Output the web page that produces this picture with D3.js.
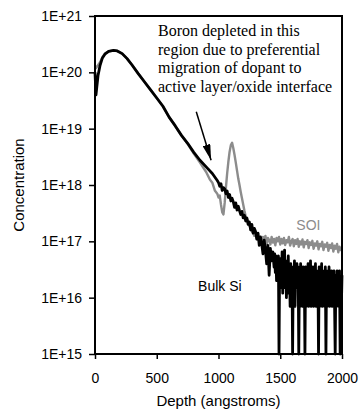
<!DOCTYPE html>
<html>
<head>
<meta charset="utf-8">
<script src="https://cdn.jsdelivr.net/npm/d3@7"></script>
<style>
  body { margin: 0; background: #fff; }
  svg { display: block; }
</style>
</head>
<body>
<div id="chart"></div>
<script>
// Axis ticks
const xTicks = [0, 500, 1000, 1500, 2000];
const yTicks = [1e15, 1e16, 1e17, 1e18, 1e19, 1e20, 1e21];

// Bulk Si profile, smooth part (depth in angstroms, concentration)
const bulkHeadDepth = [0, 8, 15, 25, 40, 60, 80, 110, 150, 180, 220, 260, 300, 350, 400,
  450, 500, 550, 600, 650, 700, 750, 800, 850, 900, 950, 990];
const bulkHeadConc = [1.0e20, 4.0e19, 5.6e19, 8.9e19, 1.3e20, 1.8e20, 2.1e20, 2.35e20, 2.45e20,
  2.4e20, 2.15e20, 1.75e20, 1.35e20, 9.5e19, 6.8e19, 4.9e19, 3.5e19, 2.5e19, 1.6e19, 1.12e19,
  7.6e18, 5.5e18, 3.8e18, 2.75e18, 2.1e18, 1.6e18, 1.2e18];

// Bulk Si jagged tail, every 10 angstroms from 1000 to 1440
const bulkMidStart = 1000;
const bulkMidConc = [
  1.1e18, 9.5e17, 1.05e18, 8.0e17, 9.0e17, 8.5e17, 7.0e17, 7.8e17, 6.0e17, 6.8e17,
  5.2e17, 5.8e17, 5.0e17, 4.0e17, 4.8e17, 3.6e17, 4.2e17, 3.5e17, 3.0e17, 3.4e17,
  2.6e17, 2.9e17, 2.3e17, 2.6e17, 2.0e17, 2.2e17, 1.6e17, 2.0e17, 1.4e17, 1.7e17,
  1.5e17, 1.1e17, 1.4e17, 8.5e16, 1.2e17, 9.0e16, 6.0e16, 1.05e17, 7.0e16, 4.0e16,
  8.5e16, 2.5e16, 7.5e16, 4.5e16, 6.5e16
];

// Bulk Si noise floor, every 5 angstroms from 1450 to 2000 (0 = no counts)
const bulkTailStart = 1450;
const bulkTailConc = [
  3.5e16, 6.0e16, 2.8e16, 5.5e16, 2.0e16, 4.8e16, 3.0e16, 5.5e16, 0, 4.0e16,
  1.5e16, 5.0e16, 2.2e16, 6.5e16, 1.2e16, 4.0e16, 2.0e16, 7.0e16, 1.5e16, 3.5e16,
  1.0e16, 4.5e16, 2.5e16, 5.5e16, 1.2e16, 3.0e16, 7.0e15, 4.0e16, 1.5e16, 3.5e16,
  0, 3.0e16, 1.0e16, 4.5e16, 7.0e15, 3.0e16, 1.5e16, 4.0e16, 2.0e16, 3.5e16,
  0, 2.5e16, 7.0e15, 4.0e16, 1.2e16, 3.0e16, 7.0e15, 3.5e16, 1.5e16, 2.5e16,
  0, 3.5e16, 7.0e15, 2.5e16, 1.0e16, 4.0e16, 7.0e15, 3.0e16, 1.2e16, 4.5e16,
  7.0e15, 2.5e16, 1.5e16, 3.5e16, 7.0e15, 3.0e16, 1.0e16, 4.0e16, 7.0e15, 2.5e16,
  1.2e16, 3.0e16, 0, 3.5e16, 7.0e15, 2.5e16, 1.2e16, 4.0e16, 7.0e15, 3.0e16,
  1.0e16, 2.5e16, 7.0e15, 3.5e16, 0, 3.0e16, 7.0e15, 2.5e16, 1.2e16, 3.5e16,
  7.0e15, 2.5e16, 1.0e16, 3.0e16, 7.0e15, 2.5e16, 1.2e16, 3.0e16, 7.0e15, 0,
  2.5e16, 7.0e15, 3.0e16, 1.2e16, 2.5e16, 7.0e15, 3.0e16, 0, 2.2e16, 7.0e15,
  2.5e16
];

// SOI profile, smooth part with the interface peak
const soiHeadDepth = [0, 10, 20, 40, 60, 80, 110, 150, 180, 220, 260, 300, 350, 400, 450,
  500, 550, 600, 650, 700, 750, 800, 850, 900, 930, 950, 970, 990, 1000, 1010, 1020, 1030,
  1040, 1050, 1060, 1070, 1080, 1090, 1100, 1110, 1120, 1130, 1140, 1150, 1160, 1170, 1180,
  1190, 1200, 1210, 1220];
const soiHeadConc = [1.3e20, 1.2e20, 1.3e20, 1.5e20, 1.85e20, 2.15e20, 2.35e20, 2.45e20, 2.4e20,
  2.15e20, 1.75e20, 1.35e20, 9.5e19, 6.8e19, 4.9e19, 3.5e19, 2.5e19, 1.6e19, 1.12e19, 7.6e18,
  5.4e18, 3.6e18, 2.5e18, 1.7e18, 1.25e18, 1.1e18, 8.0e17, 7.0e17, 6.0e17, 6.5e17, 4.5e17,
  3.3e17, 3.0e17, 4.8e17, 9.0e17, 1.6e18, 2.6e18, 3.9e18, 5.1e18, 5.6e18, 4.5e18, 3.4e18,
  2.5e18, 1.8e18, 1.3e18, 1.0e18, 7.5e17, 5.8e17, 4.5e17, 3.5e17, 2.8e17];

// SOI flat tail, every 10 angstroms from 1230 to 2000
const soiTailStart = 1230;
const soiTailConc = [
  2.5e17, 2.1e17, 1.9e17, 1.75e17, 1.5e17, 1.45e17, 1.25e17, 1.3e17, 1.1e17, 1.2e17,
  1.0e17, 1.15e17, 9.5e16, 1.2e17, 1.0e17, 1.25e17, 9.0e16, 1.15e17, 1.05e17, 8.8e16,
  1.2e17, 9.5e16, 1.1e17, 8.5e16, 1.15e17, 1.0e17, 1.2e17, 8.8e16, 1.1e17, 9.2e16,
  1.15e17, 8.6e16, 1.05e17, 9.6e16, 1.2e17, 8.4e16, 1.0e17, 1.1e17, 8.2e16, 1.05e17,
  9.0e16, 1.1e17, 8.0e16, 1.0e17, 8.8e16, 1.08e17, 7.8e16, 9.8e16, 9.0e16, 1.05e17,
  7.6e16, 9.6e16, 8.6e16, 1.02e17, 7.4e16, 9.2e16, 8.4e16, 1.0e17, 7.2e16, 9.0e16,
  8.2e16, 9.8e16, 7.0e16, 8.8e16, 8.0e16, 9.4e16, 6.8e16, 8.6e16, 7.6e16, 9.2e16,
  6.6e16, 8.4e16, 7.4e16, 9.0e16, 6.4e16, 8.0e16, 7.0e16, 6.8e16
];

const noteLines = [
  "Boron depleted in this",
  "region due to preferential",
  "migration of dopant to",
  "active layer/oxide interface"
];

// join the explicit head with evenly sampled pieces
function buildSeries(headDepth, headConc, pieces) {
  const pts = headDepth.map((d, i) => ({depth: d, conc: headConc[i]}));
  pieces.forEach(p => p.conc.forEach((c, i) => pts.push({depth: p.start + i * p.step, conc: c})));
  return pts;
}
const bulk = buildSeries(bulkHeadDepth, bulkHeadConc, [
  {start: bulkMidStart, step: 10, conc: bulkMidConc},
  {start: bulkTailStart, step: 5, conc: bulkTailConc}
]);
const soi = buildSeries(soiHeadDepth, soiHeadConc, [
  {start: soiTailStart, step: 10, conc: soiTailConc}
]);

const W = 359, H = 417;
const margin = {top: 16, right: 17, bottom: 63, left: 95};
const width = W - margin.left - margin.right,
      height = H - margin.top - margin.bottom;
const sans = "'Liberation Sans', Arial, sans-serif";

const svg = d3.select("#chart")
  .append("svg")
  .attr("width", W)
  .attr("height", H)
  .style("font-family", sans);

const g = svg.append("g")
  .attr("transform", `translate(${margin.left},${margin.top})`);

const x = d3.scaleLinear().domain([0, 2000]).range([0, width]);
const y = d3.scaleLog().domain([1e15, 1e21]).range([height, 0]);

// zero counts sit on the bottom of the axis
const clipY = c => y(Math.max(c, 1e15));

// X axis
const xAxis = g.append("g")
  .attr("transform", `translate(0,${height})`)
  .call(d3.axisBottom(x).tickValues(xTicks).tickSize(5).tickSizeOuter(0).tickPadding(14)
    .tickFormat(d3.format("d")));
xAxis.select(".domain").remove();
xAxis.selectAll("line").attr("stroke-width", 1.5);
xAxis.selectAll("text").attr("font-size", "14px").attr("fill", "#000").attr("font-family", sans);

// Y axis
const yAxis = g.append("g")
  .call(d3.axisLeft(y).tickValues(yTicks).tickSize(6).tickSizeOuter(0).tickPadding(7)
    .tickFormat(d => "1E+" + Math.round(Math.log10(d))));
yAxis.select(".domain").remove();
yAxis.selectAll("line").attr("stroke-width", 1.5);
yAxis.selectAll("text").attr("font-size", "14px").attr("fill", "#000").attr("font-family", sans);

// Series lines
const line = d3.line()
  .x(d => x(d.depth))
  .y(d => clipY(d.conc));

g.append("path")
  .datum(soi)
  .attr("fill", "none")
  .attr("stroke", "#8c8c8c")
  .attr("stroke-width", 2.4)
  .attr("stroke-linejoin", "round")
  .attr("d", line);

g.append("path")
  .datum(bulk)
  .attr("fill", "none")
  .attr("stroke", "#000")
  .attr("stroke-width", 2.8)
  .attr("stroke-linejoin", "round")
  .attr("d", line);

// Frame
g.append("rect")
  .attr("x", 0).attr("y", 0)
  .attr("width", width).attr("height", height)
  .attr("fill", "none")
  .attr("stroke", "#000")
  .attr("stroke-width", 2);

// Series labels
g.append("text")
  .attr("x", x(1630)).attr("y", y(1.6e17))
  .attr("font-size", "14px")
  .attr("fill", "#8c8c8c")
  .text("SOI");

g.append("text")
  .attr("x", x(835)).attr("y", y(1.3e16))
  .attr("font-size", "14px")
  .attr("fill", "#000")
  .text("Bulk Si");

// Annotation
const note = g.append("text")
  .attr("font-family", "'Liberation Serif', 'Times New Roman', serif")
  .attr("font-size", "16px")
  .attr("fill", "#000");
note.selectAll("tspan")
  .data(noteLines)
  .join("tspan")
  .attr("x", x(510))
  .attr("y", (d, i) => y(4.4e20) + i * 18.7)
  .text(d => d);

// Arrow to the depleted region
svg.append("defs").append("marker")
  .attr("id", "head")
  .attr("viewBox", "0 0 16 8")
  .attr("refX", 16).attr("refY", 4)
  .attr("markerWidth", 16).attr("markerHeight", 8)
  .attr("markerUnits", "userSpaceOnUse")
  .attr("orient", "auto")
  .append("path")
  .attr("d", "M0,0 L16,4 L0,8 Z")
  .attr("fill", "#000");

g.append("line")
  .attr("x1", x(820)).attr("y1", y(2.0e19))
  .attr("x2", x(940)).attr("y2", y(2.75e18))
  .attr("stroke", "#000")
  .attr("stroke-width", 1.5)
  .attr("marker-end", "url(#head)");

// Axis titles
svg.append("text")
  .attr("transform", `translate(24,${margin.top + height / 2}) rotate(-90)`)
  .attr("text-anchor", "middle")
  .attr("font-size", "15px")
  .text("Concentration");

svg.append("text")
  .attr("x", margin.left + width / 2)
  .attr("y", 406)
  .attr("text-anchor", "middle")
  .attr("font-size", "15px")
  .text("Depth (angstroms)");
</script>
</body>
</html>
